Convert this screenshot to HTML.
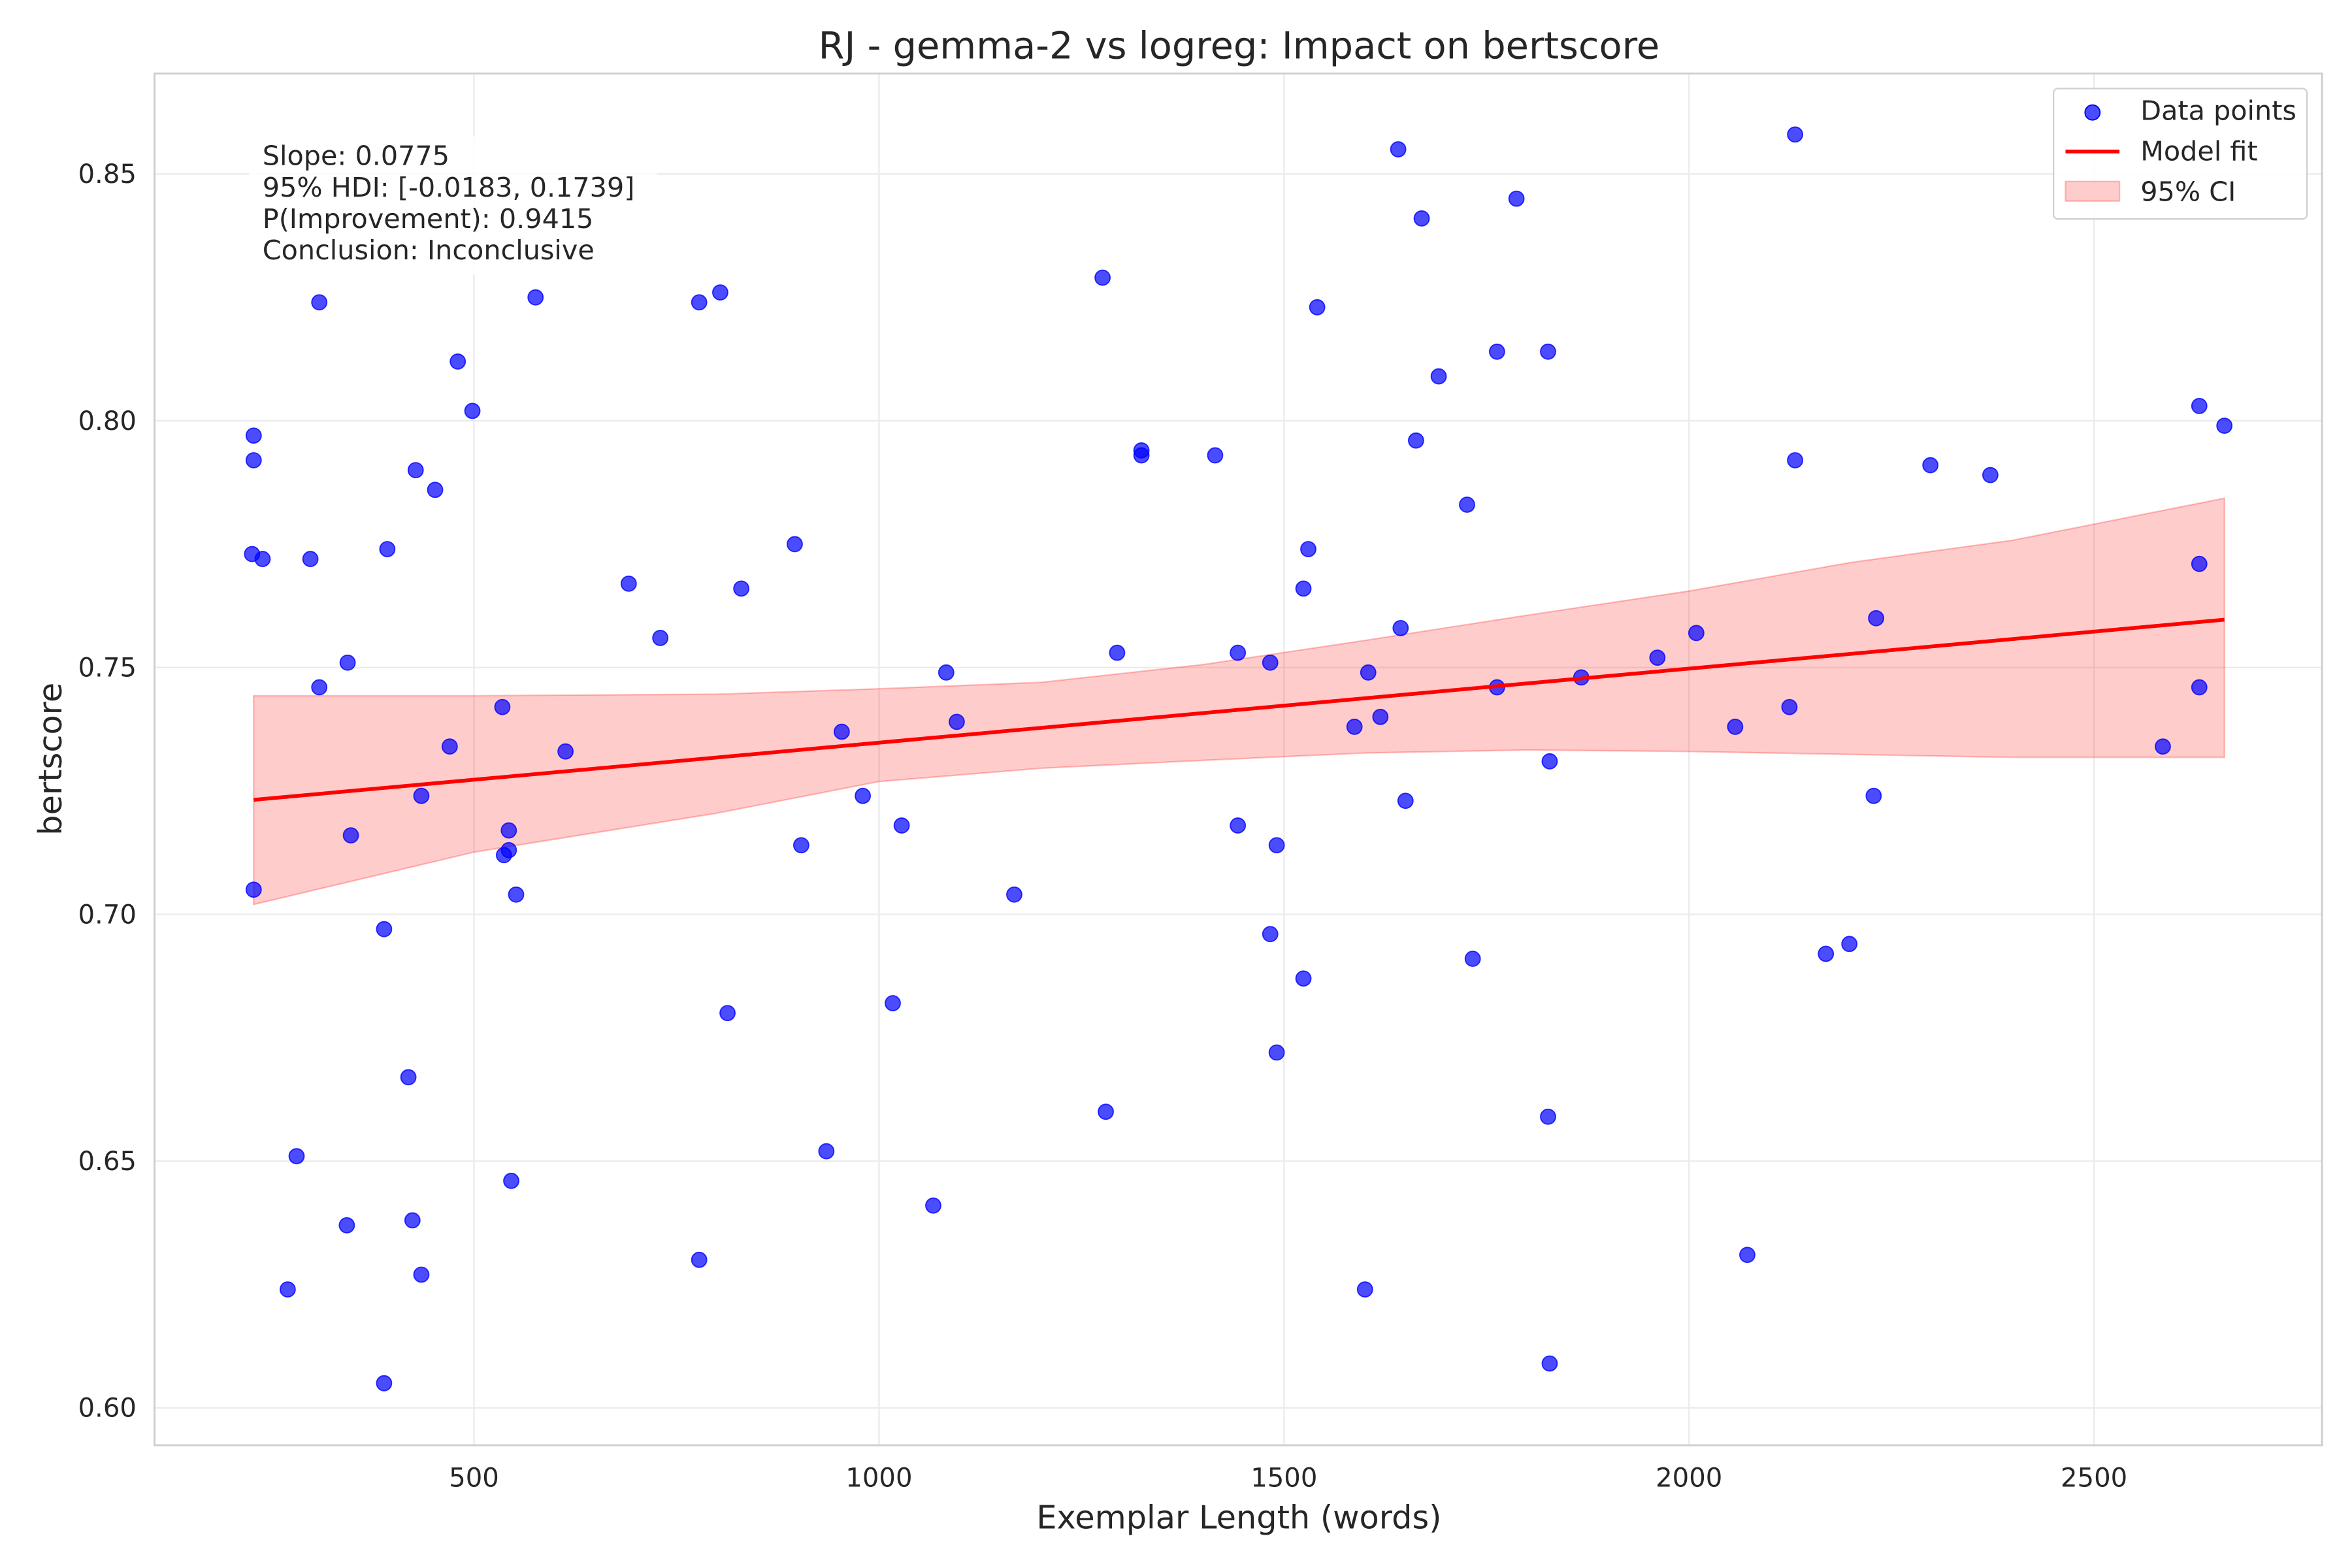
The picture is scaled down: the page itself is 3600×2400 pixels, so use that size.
<!DOCTYPE html>
<html><head><meta charset="utf-8"><style>
html,body{margin:0;padding:0;background:#fff;}
svg{display:block;font-family:"DejaVu Sans","Liberation Sans",sans-serif;}
</style></head>
<body>
<svg id="chart" xmlns="http://www.w3.org/2000/svg" width="3600" height="2400" viewBox="0 0 1568 1045.33">
<rect x="0" y="0" width="1568" height="1045.33" fill="#fff"/>
<text x="826" y="39" text-anchor="middle" font-size="25" fill="#262626">RJ - gemma-2 vs logreg: Impact on bertscore</text>
<g id="grid"></g>
<g id="band"></g>
<g id="points"></g>
<g id="fit"></g>
<rect x="103" y="49" width="1445" height="914.5" fill="none" stroke="#cccccc" stroke-width="1.2"/>
<g id="ticks"></g>
<text x="826" y="1019" text-anchor="middle" font-size="21.5" fill="#262626">Exemplar Length (words)</text>
<text transform="translate(41,506) rotate(-90)" text-anchor="middle" font-size="21.5" fill="#262626">bertscore</text>
<g>
<rect x="166" y="91" width="272" height="92" fill="#fff" fill-opacity="0.85"/>
<text x="175" y="110" font-size="18" fill="#262626">Slope: 0.0775</text>
<text x="175" y="131" font-size="18" fill="#262626">95% HDI: [-0.0183, 0.1739]</text>
<text x="175" y="152" font-size="18" fill="#262626">P(Improvement): 0.9415</text>
<text x="175" y="173" font-size="18" fill="#262626">Conclusion: Inconclusive</text>
</g>
<g>
<rect x="1369" y="59" width="169" height="87" rx="3" fill="#fff" fill-opacity="0.9" stroke="#d0d0d0" stroke-width="1"/>
<circle cx="1395" cy="75" r="5" fill="#0000ff" fill-opacity="0.7" stroke="#0000ff" stroke-width="0.8"/>
<text x="1427" y="80" font-size="18" fill="#262626">Data points</text>
<line x1="1377" y1="101" x2="1413" y2="101" stroke="#ff0000" stroke-width="2.5"/>
<text x="1427" y="107" font-size="18" fill="#262626">Model fit</text>
<rect x="1377" y="121" width="36" height="13" fill="#ff0000" fill-opacity="0.2" stroke="#ff0000" stroke-opacity="0.25"/>
<text x="1427" y="134" font-size="18" fill="#262626">95% CI</text>
</g>
</svg>
<script>
const xVals = [228,228,228,226,239,309,298,309,344,348,281,270,343,389,393,389,428,419,424,435,435,452,480,470,498,535,537,543,543,552,546,576,613,691,730,778,804,778,813,830,896,904,935,954,980,1017,1028,1067,1083,1096,1167,1276,1280,1294,1324,1324,1415,1443,1443,1483,1483,1491,1491,1524,1524,1530,1541,1587,1600,1604,1619,1641,1644,1650,1663,1670,1691,1726,1733,1763,1763,1787,1826,1828,1826,1828,1867,1961,2009,2057,2072,2124,2131,2131,2169,2198,2228,2231,2298,2372,2585,2630,2630,2630,2661];
const yVals = [0.705,0.797,0.792,0.773,0.772,0.824,0.772,0.746,0.751,0.716,0.651,0.624,0.637,0.697,0.774,0.605,0.790,0.667,0.638,0.627,0.724,0.786,0.812,0.734,0.802,0.742,0.712,0.717,0.713,0.704,0.646,0.825,0.733,0.767,0.756,0.824,0.826,0.630,0.680,0.766,0.775,0.714,0.652,0.737,0.724,0.682,0.718,0.641,0.749,0.739,0.704,0.829,0.660,0.753,0.794,0.793,0.793,0.753,0.718,0.751,0.696,0.714,0.672,0.766,0.687,0.774,0.823,0.738,0.624,0.749,0.740,0.855,0.758,0.723,0.796,0.841,0.809,0.783,0.691,0.814,0.746,0.845,0.814,0.731,0.659,0.609,0.748,0.752,0.757,0.738,0.631,0.742,0.858,0.792,0.692,0.694,0.724,0.760,0.791,0.789,0.734,0.803,0.771,0.746,0.799];
const ciX = [228,500,800,1000,1200,1400,1600,1800,2000,2200,2400,2661];
const ciUpper = [0.7443,0.7443,0.7446,0.7457,0.7470,0.7506,0.7555,0.7606,0.7655,0.7713,0.7758,0.7843];
const ciLower = [0.7020,0.7126,0.7205,0.7269,0.7296,0.7312,0.7327,0.7333,0.7330,0.7324,0.7318,0.7318];
const fitX = [228,2661];
const fitY = [0.7232,0.7597];
const xTicks = [500,1000,1500,2000,2500];
const yTicks = [0.60,0.65,0.70,0.75,0.80,0.85];

const NS = "http://www.w3.org/2000/svg";
function xs(v){ return 46 + 0.54*v; }
function ys(v){ return 116 + (0.85 - v)*3290.4; }
function mk(tag, attrs, parent){ const e=document.createElementNS(NS,tag); for(const k in attrs) e.setAttribute(k,attrs[k]); parent.appendChild(e); return e; }

const grid=document.getElementById('grid'), ticks=document.getElementById('ticks');
xTicks.forEach(t=>{
  const l=mk('line',{x1:xs(t),x2:xs(t),y1:49,y2:963.5,stroke:'#ebebeb','stroke-width':1},grid);
  
  
  const tx=mk('text',{x:xs(t),y:991,'text-anchor':'middle','font-size':17.5,fill:'#262626'},ticks);
  tx.textContent=t;
  
  
});
yTicks.forEach(t=>{
  const l=mk('line',{x1:103,x2:1548,y1:ys(t),y2:ys(t),stroke:'#ebebeb','stroke-width':1},grid);
  
  
  const tx=mk('text',{x:91,y:ys(t)+6,'text-anchor':'end','font-size':17.5,fill:'#262626'},ticks);
  tx.textContent=t.toFixed(2);
  
  
});

let d='';
ciX.forEach((x,i)=>{ d+=(i?'L':'M')+xs(x)+','+ys(ciUpper[i]); });
for(let i=ciX.length-1;i>=0;i--) d+='L'+xs(ciX[i])+','+ys(ciLower[i]);
d+='Z';
const band=mk('path',{d:d,fill:'#ff0000','fill-opacity':0.2,stroke:'#ff0000','stroke-opacity':0.25,'stroke-width':1},document.getElementById('band'));



const pts=document.getElementById('points');
xVals.forEach((x,i)=>{
  const c=mk('circle',{cx:xs(x),cy:ys(yVals[i]),r:5,fill:'#0000ff','fill-opacity':0.7,stroke:'#0000ff','stroke-opacity':0.8,'stroke-width':0.8},pts);
  
  
});

const fl=mk('line',{x1:xs(fitX[0]),y1:ys(fitY[0]),x2:xs(fitX[1]),y2:ys(fitY[1]),stroke:'#ff0000','stroke-width':2.5},document.getElementById('fit'));


</script>
</body></html>
